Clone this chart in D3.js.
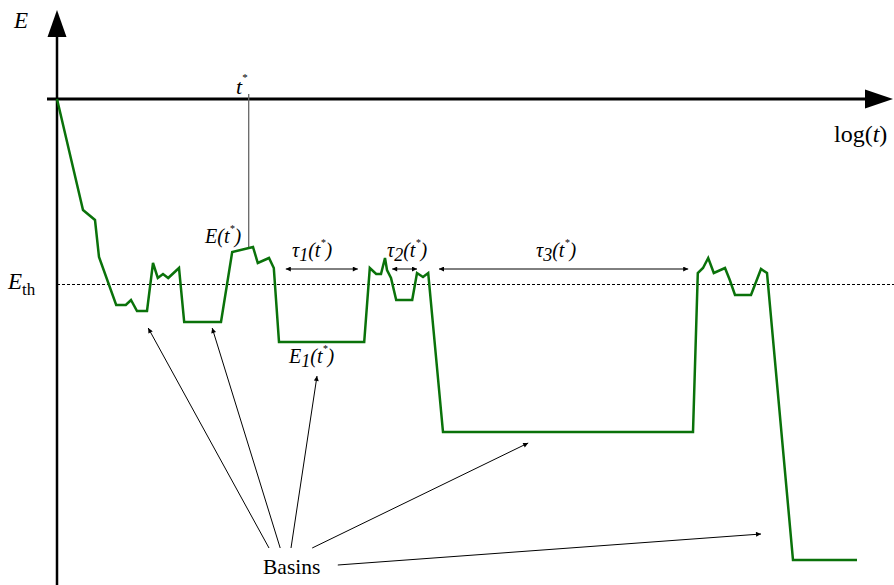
<!DOCTYPE html>
<html><head><meta charset="utf-8">
<script src="https://cdn.jsdelivr.net/npm/d3@7"></script>
<style>
html,body{margin:0;padding:0;background:#fff;}
svg{display:block;}
</style></head>
<body>
<svg id="c" width="894" height="585" font-family="'Liberation Serif', 'Times New Roman', Times, serif"></svg>
<script>
// ---- data (log-time units, energy units) ----
const logT = [0,3.25,4.75,5.25,7.4,8.6,9.25,10,11.25,12,12.6,13.25,13.9,15.25,15.9,20.5,21.9,24.5,25.1,26.5,27.1,27.75,38.4,39.1,39.9,40.5,41,41.25,41.75,42.4,44.4,45,45.75,46.4,48.25,79.5,80.1,80.75,81.4,82.1,83.5,84.1,84.75,86.75,88,88.75,92,100];
const energy = [0,-22.2,-24.2,-31.6,-41.2,-41.2,-40.2,-42.4,-42.4,-32.8,-35.8,-35,-35.8,-33.8,-44.6,-44.6,-30.6,-29.6,-32.8,-31.8,-33.8,-48.6,-48.6,-33.8,-35,-35,-31.8,-34.2,-35.8,-40.2,-40.2,-34.8,-35.6,-34.8,-66.6,-66.6,-34.8,-33.8,-31.8,-34.8,-33.8,-36.2,-39.2,-39.2,-34,-34.8,-92.2,-92.2];
const Eth = -37;
const tStar = 23.9;
const EtStar = -29.8;
// tau intervals: [start, end]
const tauStart = [28.6, 41.9, 47.75];
const tauEnd = [37.6, 45.0, 78.9];
const tauE = -34;
const tauLabels = ["1","2","3"];
// "Basins" pointer arrows: from -> to (logT, E)
const basinFromT = [26.5, 27.9, 29.25, 31.9, 35.1];
const basinFromE = [-89.8, -89.8, -89.8, -89.8, -93.2];
const basinToT = [11.4, 19.4, 32.5, 58.9, 88.0];
const basinToE = [-45.8, -45.8, -55.4, -68.8, -87.0];

const FONT = "'Liberation Serif', 'Times New Roman', Times, serif";
const svg = d3.select("#c");
const x = d3.scaleLinear().domain([0, 100]).range([57, 857]);
const y = d3.scaleLinear().domain([0, -100]).range([99, 599]);

const defs = svg.append("defs");
function marker(id, orient){
  defs.append("marker").attr("id", id).attr("viewBox","0 0 10 10")
    .attr("refX", 10).attr("refY", 5).attr("markerWidth", 7).attr("markerHeight", 5)
    .attr("markerUnits","userSpaceOnUse").attr("orient", orient)
    .append("path").attr("d","M0,0 L10,5 L0,10 Z").attr("fill","#000");
}
marker("ah","auto");
marker("ahs","auto-start-reverse");

// axes
svg.append("line").attr("x1", x(0)).attr("x2", x(0)).attr("y1", 585).attr("y2", 35)
  .attr("stroke","#000").attr("stroke-width",2.5);
svg.append("path").attr("d", `M${x(0)},10 L${x(0)-9.5},37 L${x(0)+9.5},37 Z`).attr("fill","#000");
svg.append("line").attr("x1", 47).attr("x2", 866).attr("y1", y(0)).attr("y2", y(0))
  .attr("stroke","#000").attr("stroke-width",3);
svg.append("path").attr("d", `M893,${y(0)} L865,${y(0)-9.5} L865,${y(0)+9.5} Z`).attr("fill","#000");

// threshold line
svg.append("line").attr("x1", x(0)).attr("x2", 894).attr("y1", y(Eth)+0.5).attr("y2", y(Eth)+0.5)
  .attr("stroke","#000").attr("stroke-width",1).attr("stroke-dasharray","3,2");

// t* line
svg.append("line").attr("x1", x(tStar)+0.5).attr("x2", x(tStar)+0.5).attr("y1", 94).attr("y2", y(EtStar))
  .attr("stroke","#666").attr("stroke-width",1.3);

// energy trace
const pts = logT.map((t,i)=>[t, energy[i]]);
svg.append("path").datum(pts)
  .attr("d", d3.line().x(d=>x(d[0])).y(d=>y(d[1])))
  .attr("fill","none").attr("stroke","#0a720a").attr("stroke-width",2.5)
  .attr("stroke-linejoin","miter");

// tau arrows
tauStart.forEach((s,i)=>{
  svg.append("line").attr("x1", x(s)).attr("x2", x(tauEnd[i])).attr("y1", y(tauE)).attr("y2", y(tauE))
    .attr("stroke","#000").attr("stroke-width",1)
    .attr("marker-start","url(#ahs)").attr("marker-end","url(#ah)");
});

// basin arrows
basinFromT.forEach((t,i)=>{
  svg.append("line").attr("x1", x(t)).attr("y1", y(basinFromE[i]))
    .attr("x2", x(basinToT[i])).attr("y2", y(basinToE[i]))
    .attr("stroke","#000").attr("stroke-width",1).attr("marker-end","url(#ah)");
});

// labels
function lbl(xp, yp, size){
  return svg.append("text").attr("x", xp).attr("y", yp).attr("font-size", size)
    .attr("font-family", FONT).attr("fill","#000");
}
lbl(14, 28, 23).attr("font-style","italic").text("E");
// t*
{
  const t = lbl(236, 94, 22);
  t.append("tspan").attr("font-style","italic").text("t");
  t.append("tspan").attr("font-size",11).attr("dy",-13).text("*");
}
// log(t)
{
  const t = lbl(834, 142, 24);
  t.append("tspan").text("log(");
  t.append("tspan").attr("font-style","italic").text("t");
  t.append("tspan").text(")");
}
// E_th
{
  const t = lbl(8, 289, 23);
  t.append("tspan").attr("font-style","italic").text("E");
  t.append("tspan").attr("font-size",17).attr("dy",6).text("th");
}
function starLabel(xp, yp, head, sub){
  const t = lbl(xp, yp, 20).attr("font-style","italic");
  t.append("tspan").text(head);
  if (sub){
    t.append("tspan").attr("font-size",18).attr("dy",4).text(sub);
    t.append("tspan").attr("dy",-4).text("(t");
  } else {
    t.append("tspan").text("(t");
  }
  t.append("tspan").attr("font-size",10).attr("dy",-11).text("*");
  t.append("tspan").attr("dy",11).text(")");
}
starLabel(205, 243, "E", null);
const tauX = [292, 387, 536];
tauLabels.forEach((s,i)=> starLabel(tauX[i], 257, "\u03C4", s));
starLabel(289, 363, "E", "1");
lbl(263, 574, 21.5).text("Basins");
</script>
</body></html>
